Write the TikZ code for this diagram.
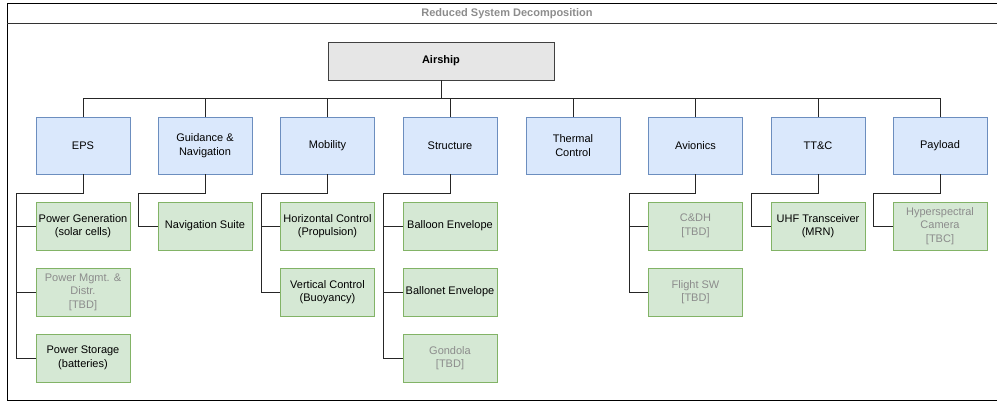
\documentclass[tikz,border=0pt]{standalone}
\usepackage{fontspec}
\setmainfont{Liberation Sans}
\usetikzlibrary{positioning}

\definecolor{topfill}{HTML}{E6E6E6}
\definecolor{sysfill}{HTML}{DAE8FC}
\definecolor{sysdraw}{HTML}{6C8EBF}
\definecolor{subfill}{HTML}{D5E8D4}
\definecolor{subdraw}{HTML}{82B366}

\tikzset{
    topbox/.style={draw=black!75, fill=topfill, minimum width=226pt, minimum height=38pt, font=\fontsize{11}{13}\selectfont\bfseries},
    sysbox/.style={draw=sysdraw, fill=sysfill, minimum width=94pt, minimum height=57pt, align=center, inner sep=1pt},
    subbox/.style={draw=subdraw, fill=subfill, minimum width=94pt, minimum height=48pt, align=center, inner sep=1pt},
    tbdbox/.style={subbox, text=black!45},
    link/.style={draw=black!85, line width=.9pt}
}

\begin{document}
\begin{tikzpicture}[x=1pt, y=-1pt, font=\fontsize{11}{13.5}\selectfont]
    \clip (0,0) rectangle (997,402);
    % frame
    \draw[line width=1pt] (7,3) rectangle (1010,400);
    \draw[line width=1pt, black!80] (7,23) -- (1010,23);
    \node[font=\fontsize{11}{13}\selectfont\bfseries, text=black!45] (title) at (507,14) {Reduced System Decomposition};

    \node[topbox] (air) at (441,61) {Airship};

    % systems
    \node[sysbox] (eps) at (83,145.5) {EPS};
    \node[sysbox] (gnc) at (205,145.5) {Guidance \&\\Navigation};
    \node[sysbox] (mob) at (327.5,145.5) {Mobility};
    \node[sysbox] (str) at (450,145.5) {Structure};
    \node[sysbox] (thm) at (573,145.5) {Thermal\\Control};
    \node[sysbox] (avi) at (695.5,145.5) {Avionics};
    \node[sysbox] (ttc) at (818,145.5) {TT\&C};
    \node[sysbox] (pay) at (940,145.5) {Payload};

    % subsystems
    \node[subbox] (pgen) at (83,226) {Power Generation\\(solar cells)};
    \node[tbdbox] (pmad) at (83,292) {Power Mgmt. \&\\Distr.\\{[TBD]}};
    \node[subbox] (pstor) at (83,358) {Power Storage\\(batteries)};
    \node[subbox] (nav) at (205,226) {Navigation Suite};
    \node[subbox] (hctl) at (327.5,226) {Horizontal Control\\(Propulsion)};
    \node[subbox] (vctl) at (327.5,292) {Vertical Control\\(Buoyancy)};
    \node[subbox] (ball) at (450,226) {Balloon Envelope};
    \node[subbox] (bnet) at (450,292) {Ballonet Envelope};
    \node[tbdbox] (gond) at (450,358) {Gondola\\{[TBD]}};
    \node[tbdbox] (cdh) at (695.5,226) {C\&DH\\{[TBD]}};
    \node[tbdbox] (fsw) at (695.5,292) {Flight SW\\{[TBD]}};
    \node[subbox] (uhf) at (818,226) {UHF Transceiver\\(MRN)};
    \node[tbdbox] (hsc) at (940,226) {Hyperspectral\\Camera\\{[TBC]}};

    % top level links
    \foreach \s in {eps,gnc,mob,str,thm,avi,ttc,pay}
        \draw[link] (air.south) -- ++(0,18) -| (\s.north);

    % subsystem links
    \foreach \p/\c in {eps/pgen,eps/pmad,eps/pstor,gnc/nav,mob/hctl,mob/vctl,str/ball,str/bnet,str/gond,avi/cdh,avi/fsw,ttc/uhf,pay/hsc}
        \draw[link] (\p.south) -- ++(0,19) -| ([xshift=-19pt]\c.west) -- (\c.west);
\end{tikzpicture}
\end{document}
